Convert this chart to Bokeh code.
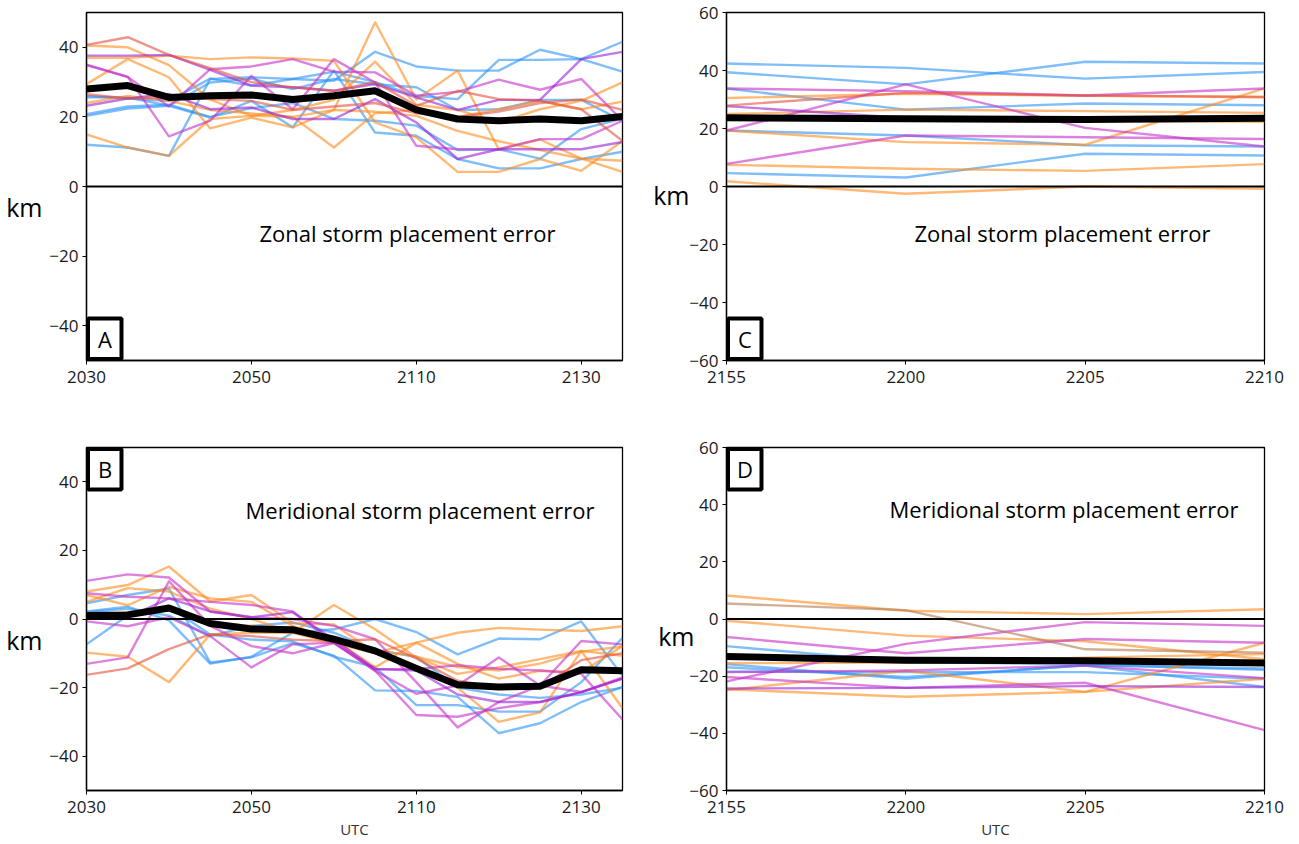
from bokeh.plotting import figure
from bokeh.layouts import column, row
from bokeh.models import Span, BoxAnnotation, Label, FixedTicker, Range1d, LinearAxis
from bokeh.embed import file_html
from bokeh.resources import INLINE

# ---------------------------------------------------------------- time axes
times_early = ["2030", "2035", "2040", "2045", "2050", "2055", "2100",
               "2105", "2110", "2115", "2120", "2125", "2130", "2135"]
ticks_early = ["2030", "2050", "2110", "2130"]
times_late = ["2155", "2200", "2205", "2210"]
ticks_late = ["2155", "2200", "2205", "2210"]

# ---------------------------------------------------------------- zonal error, 2030-2135 UTC (km)
zonal_early_blue = [
    [12.0, 11.2, 8.8, 30.9, 31.4, 30.9, 30.4, 38.7, 34.5, 33.3, 33.3, 39.3, 36.6, 41.6],
    [20.3, 22.4, 23.2, 19.8, 24.6, 17.0, 33.3, 15.5, 14.6, 7.9, 5.2, 5.2, 7.9, 10.0],
    [25.6, 25.6, 23.2, 29.9, 31.0, 28.0, 30.9, 29.4, 28.5, 22.0, 22.2, 24.9, 24.9, 18.9],
    [20.8, 23.0, 23.5, 20.0, 22.5, 24.0, 19.4, 18.9, 17.5, 10.5, 10.7, 8.0, 16.5, 19.5],
    [26.0, 25.3, 24.6, 31.0, 29.0, 30.9, 33.0, 30.0, 26.0, 25.1, 36.4, 36.4, 36.6, 33.0],
]
zonal_early_orange = [
    [40.5, 40.0, 34.9, 25.0, 20.3, 22.0, 24.9, 35.9, 23.5, 22.0, 18.4, 22.2, 24.6, 29.9],
    [29.4, 36.6, 31.4, 16.7, 19.8, 17.0, 22.0, 47.2, 25.0, 33.3, 10.7, 13.5, 8.0, 4.2],
    [15.0, 11.2, 8.8, 19.4, 20.3, 20.0, 22.0, 21.5, 20.3, 16.0, 13.0, 10.5, 8.0, 7.4],
    [37.0, 37.0, 37.6, 36.6, 37.1, 36.8, 36.1, 18.4, 14.1, 4.2, 4.2, 7.9, 4.5, 13.1],
    [24.0, 26.0, 24.6, 22.0, 21.0, 20.0, 11.2, 21.0, 22.0, 20.0, 22.2, 24.6, 22.2, 24.4],
]
zonal_early_magenta = [
    [34.9, 31.5, 23.0, 33.7, 34.5, 36.6, 33.0, 32.8, 26.1, 27.2, 30.7, 27.8, 30.9, 18.9],
    [35.0, 31.5, 14.4, 18.9, 31.8, 22.2, 36.6, 29.9, 11.7, 10.7, 10.7, 13.6, 13.6, 18.9],
]
zonal_early_purple = [
    [37.6, 37.6, 37.8, 33.5, 29.0, 28.5, 27.5, 29.4, 25.6, 22.0, 24.9, 24.9, 36.6, 38.7],
    [23.2, 25.3, 26.6, 22.2, 22.7, 19.4, 19.4, 25.1, 18.4, 7.9, 10.7, 10.7, 10.7, 12.8],
]
zonal_early_red = [
    [40.7, 42.9, 37.8, 34.0, 30.0, 28.5, 27.5, 30.0, 23.2, 27.5, 25.1, 24.6, 22.2, 13.1],
    [26.5, 25.3, 25.6, 25.1, 24.6, 22.0, 23.0, 24.0, 21.0, 20.0, 21.5, 24.0, 25.0, 22.0],
]
zonal_early_mean = [28.0, 29.0, 25.6, 26.1, 26.3, 25.0, 26.1, 27.5, 22.0, 19.4, 18.9, 19.4, 18.9, 20.1]

# ---------------------------------------------------------------- meridional error, 2030-2135 UTC (km)
merid_early_blue = [
    [4.6, 7.0, 8.9, -12.7, -11.2, -7.0, -10.7, -20.8, -21.0, -22.7, -33.3, -30.4, -24.2, -19.8],
    [2.2, 3.6, -0.4, -13.0, -11.0, -4.0, -3.0, 0.0, -3.8, -10.3, -5.7, -5.9, -0.7, -16.5],
    [-7.4, 1.0, 3.6, -4.5, -6.0, -6.5, -11.0, -14.0, -25.1, -25.1, -27.0, -27.0, -18.4, -5.5],
    [2.0, 3.0, 1.0, -5.0, -2.0, -1.0, -4.0, -9.0, -11.0, -20.0, -22.0, -23.0, -22.0, -20.0],
]
merid_early_orange = [
    [8.0, 9.9, 15.3, 5.1, 7.0, -1.2, -1.6, -9.8, -6.9, -4.0, -2.6, -3.1, -3.5, -2.1],
    [-9.8, -11.0, -18.4, -4.5, -4.0, -4.0, 4.1, -3.0, -11.2, -16.0, -14.1, -11.7, -9.3, -26.0],
    [7.0, 4.0, 9.4, 6.0, 5.0, -2.0, -6.0, -14.1, -6.9, -13.1, -17.4, -15.1, -15.5, -7.9],
    [5.0, 9.0, 8.0, 3.0, 0.0, -4.0, -7.0, -10.0, -14.0, -20.0, -30.0, -27.2, -9.3, -10.7],
    [1.0, 2.0, 2.5, -1.0, -2.0, -3.0, -6.0, -9.0, -11.0, -14.0, -15.0, -13.0, -9.5, -8.0],
]
merid_early_magenta = [
    [11.1, 13.0, 12.1, 2.2, 0.5, 0.0, -2.0, -5.9, -18.4, -31.6, -24.2, -19.4, -6.4, -7.4],
    [7.5, 6.5, 6.0, 5.0, 4.1, 2.2, -6.9, -15.1, -28.0, -28.5, -26.0, -24.2, -21.3, -17.4],
    [-13.1, -11.2, 11.0, -2.0, -7.9, -10.0, -7.0, -14.6, -14.6, -13.5, -14.5, -15.0, -16.0, -29.3],
    [-0.7, -2.1, 0.5, -5.0, -14.1, -7.4, -6.9, -15.1, -21.8, -19.4, -11.2, -19.4, -21.3, -17.0],
]
merid_early_purple = [
    [1.7, 0.5, 6.0, 2.2, 0.5, 2.0, -6.0, -14.6, -15.0, -22.0, -24.2, -24.2, -21.3, -17.4],
]
merid_early_red = [
    [-16.3, -14.4, -8.8, -4.5, -5.0, -6.0, -6.5, -5.9, -11.5, -18.0, -20.0, -20.0, -12.0, -10.0],
]
merid_early_mean = [1.0, 1.2, 3.2, -1.3, -2.9, -3.1, -5.9, -9.3, -14.4, -19.2, -19.8, -19.6, -14.8, -15.1]

# ---------------------------------------------------------------- zonal error, 2155-2210 UTC (km)
zonal_late_blue = [
    [42.4, 40.9, 37.2, 39.5],
    [39.4, 35.2, 43.0, 42.4],
    [33.8, 26.5, 28.6, 28.0],
    [19.3, 17.6, 14.2, 13.8],
    [4.6, 3.1, 11.3, 10.7],
]
zonal_late_orange = [
    [30.5, 32.0, 31.3, 31.0],
    [25.0, 26.5, 26.0, 25.4],
    [19.3, 15.3, 14.4, 33.8],
    [7.5, 6.1, 5.4, 7.7],
    [1.8, -2.5, 0.0, -0.8],
    [24.0, 23.5, 22.7, 22.3],
]
zonal_late_magenta = [
    [33.8, 32.9, 31.4, 33.8],
    [19.3, 35.2, 20.2, 13.8],
    [7.8, 17.6, 17.0, 16.4],
]
zonal_late_purple = [
    [27.7, 23.6, 23.0, 24.0],
]
zonal_late_red = [
    [27.9, 32.3, 31.4, 30.8],
]
zonal_late_mean = [23.7, 23.4, 23.1, 23.5]

# ---------------------------------------------------------------- meridional error, 2155-2210 UTC (km)
merid_late_blue = [
    [-9.5, -15.0, -16.0, -17.8],
    [-15.8, -20.9, -16.1, -17.3],
    [-18.4, -18.6, -18.6, -20.9],
    [-16.9, -20.3, -16.3, -23.8],
]
merid_late_orange = [
    [8.2, 2.9, 1.7, 3.4],
    [-0.6, -5.8, -7.8, -14.1],
    [-15.5, -15.2, -13.5, -12.3],
    [-24.6, -27.2, -25.5, -20.9],
    [-24.9, -18.1, -25.5, -8.3],
]
merid_late_magenta = [
    [-6.3, -12.0, -7.0, -8.3],
    [-21.8, -8.7, -1.1, -2.4],
    [-18.6, -18.0, -16.3, -20.7],
    [-20.3, -24.1, -22.3, -38.9],
]
merid_late_purple = [
    [-24.3, -24.1, -23.5, -23.8],
]
merid_late_tan = [
    [5.4, 3.1, -10.6, -11.8],
]
merid_late_mean = [-13.1, -14.4, -14.6, -15.4]

# ---------------------------------------------------------------- styling
COLORS = {
    "blue": "#2b93f5",
    "orange": "#ff8a1c",
    "magenta": "#c42ec8",
    "purple": "#9a1fd6",
    "red": "#e4503e",
    "tan": "#b07a50",
}
TICK_FONT = "Open Sans"
TEXT_FONT = "Open Sans"


def make_panel(groups, mean, times, tick_labels, y_lim, y_ticks,
               width, height, borders, letter, letter_corner,
               caption, caption_px, km_y, km_gap, show_utc):
    left, right, top, bottom = borders
    n = len(times)
    x = list(range(n))
    fw = width - left - right
    fh = height - top - bottom
    y0, y1 = y_lim

    def px_to_x(px):          # horizontal pixel offset from frame left -> data
        return px / fw * (n - 1)

    def px_to_y(py):          # vertical pixel offset from frame top -> data
        return y1 - py / fh * (y1 - y0)

    p = figure(width=width, height=height,
               x_range=Range1d(0, n - 1), y_range=Range1d(y0, y1),
               output_backend="svg", toolbar_location=None,
               min_border_left=left, min_border_right=right,
               min_border_top=top, min_border_bottom=bottom)
    p.xgrid.visible = False
    p.ygrid.visible = False
    p.outline_line_color = "black"
    p.outline_line_alpha = 1.0
    p.outline_line_width = 1.3
    p.background_fill_color = "white"
    p.border_fill_color = "white"

    p.xaxis.ticker = FixedTicker(ticks=[times.index(t) for t in tick_labels])
    p.xaxis.major_label_overrides = {times.index(t): t for t in tick_labels}
    p.yaxis.ticker = FixedTicker(ticks=y_ticks)
    p.yaxis.major_label_overrides = {
        t: (str(t) if t >= 0 else "\u2212" + str(-t)) for t in y_ticks}
    for ax in (p.xaxis[0], p.yaxis[0]):
        ax.minor_tick_line_color = None
        ax.major_tick_in = 0
        ax.major_tick_out = 4
        ax.major_tick_line_color = "black"
        ax.axis_line_color = "black"
        ax.axis_line_width = 1.3
        ax.major_label_text_font = TICK_FONT
        ax.major_label_text_font_size = "17px"
        ax.major_label_text_color = "#1a1a1a"
    p.xaxis.major_label_standoff = 6
    p.yaxis.major_label_standoff = 4
    if show_utc:
        p.xaxis.axis_label = "UTC"
        p.xaxis.axis_label_text_font = TICK_FONT
        p.xaxis.axis_label_text_font_size = "15px"
        p.xaxis.axis_label_text_font_style = "normal"
        p.xaxis.axis_label_text_color = "#333333"
        p.xaxis.axis_label_standoff = 3

    # "km" unit label, drawn as the single tick of an outer left axis
    km_axis = LinearAxis(ticker=FixedTicker(ticks=[km_y]),
                         major_label_overrides={km_y: "km"})
    km_axis.axis_line_color = None
    km_axis.major_tick_line_color = None
    km_axis.minor_tick_line_color = None
    km_axis.major_tick_in = 0
    km_axis.major_tick_out = 0
    km_axis.major_label_standoff = km_gap
    km_axis.major_label_text_font = TEXT_FONT
    km_axis.major_label_text_font_size = "25px"
    km_axis.major_label_text_color = "black"
    p.add_layout(km_axis, "left")

    # ensemble members
    for cname, members in groups:
        for ys in members:
            p.line(x, ys, line_color=COLORS[cname], line_alpha=0.6,
                   line_width=2.4, line_join="round")

    # zero reference and ensemble mean
    p.add_layout(Span(location=0, dimension="width", line_color="black",
                      line_width=2.2))
    p.line(x, mean, line_color="black", line_width=7, line_join="round")

    # panel caption
    cx, cy = caption_px
    p.add_layout(Label(x=px_to_x(cx), y=px_to_y(cy), text=caption,
                       text_font=TEXT_FONT, text_font_size="22px",
                       text_color="black", text_align="left",
                       text_baseline="middle"))

    # panel letter in a framed box
    bw, bh = 35, 42
    inset = 1.5
    if letter_corner == "bottom":
        b_top, b_bot = px_to_y(fh - bh), px_to_y(fh - inset)
    else:
        b_top, b_bot = px_to_y(inset), px_to_y(bh)
    p.add_layout(BoxAnnotation(left=px_to_x(inset), right=px_to_x(bw),
                               bottom=b_bot, top=b_top,
                               fill_color="white", fill_alpha=1.0,
                               line_color="black", line_alpha=1.0,
                               line_width=4))
    p.add_layout(Label(x=px_to_x(bw / 2 + 1), y=(b_top + b_bot) / 2, text=letter,
                       text_font=TEXT_FONT, text_font_size="22px",
                       text_color="black", text_align="center",
                       text_baseline="middle"))
    return p


pA = make_panel(
    [("blue", zonal_early_blue), ("orange", zonal_early_orange),
     ("magenta", zonal_early_magenta), ("purple", zonal_early_purple),
     ("red", zonal_early_red)],
    zonal_early_mean, times_early, ticks_early, (-50, 50), [-40, -20, 0, 20, 40],
    650, 420, (86, 28, 12, 60), "A", "bottom",
    "Zonal storm placement error", (173, 220), -6, 4, False)

pC = make_panel(
    [("blue", zonal_late_blue), ("orange", zonal_late_orange),
     ("magenta", zonal_late_magenta), ("purple", zonal_late_purple),
     ("red", zonal_late_red)],
    zonal_late_mean, times_late, ticks_late, (-60, 60), [-60, -40, -20, 0, 20, 40, 60],
    649, 420, (76, 35, 12, 60), "C", "bottom",
    "Zonal storm placement error", (188, 220), -3, -3, False)

pB = make_panel(
    [("blue", merid_early_blue), ("orange", merid_early_orange),
     ("magenta", merid_early_magenta), ("purple", merid_early_purple),
     ("red", merid_early_red)],
    merid_early_mean, times_early, ticks_early, (-50, 50), [-40, -20, 0, 20, 40],
    650, 424, (86, 28, 27, 54), "B", "top",
    "Meridional storm placement error", (159, 62), -6, 4, True)

pD = make_panel(
    [("blue", merid_late_blue), ("orange", merid_late_orange),
     ("magenta", merid_late_magenta), ("purple", merid_late_purple),
     ("tan", merid_late_tan)],
    merid_late_mean, times_late, ticks_late, (-60, 60), [-60, -40, -20, 0, 20, 40, 60],
    649, 424, (76, 35, 27, 54), "D", "top",
    "Meridional storm placement error", (163, 61), -6, -8, True)

layout = column(row(pA, pC), row(pB, pD))
open("out.html", "w").write(file_html(layout, INLINE))
